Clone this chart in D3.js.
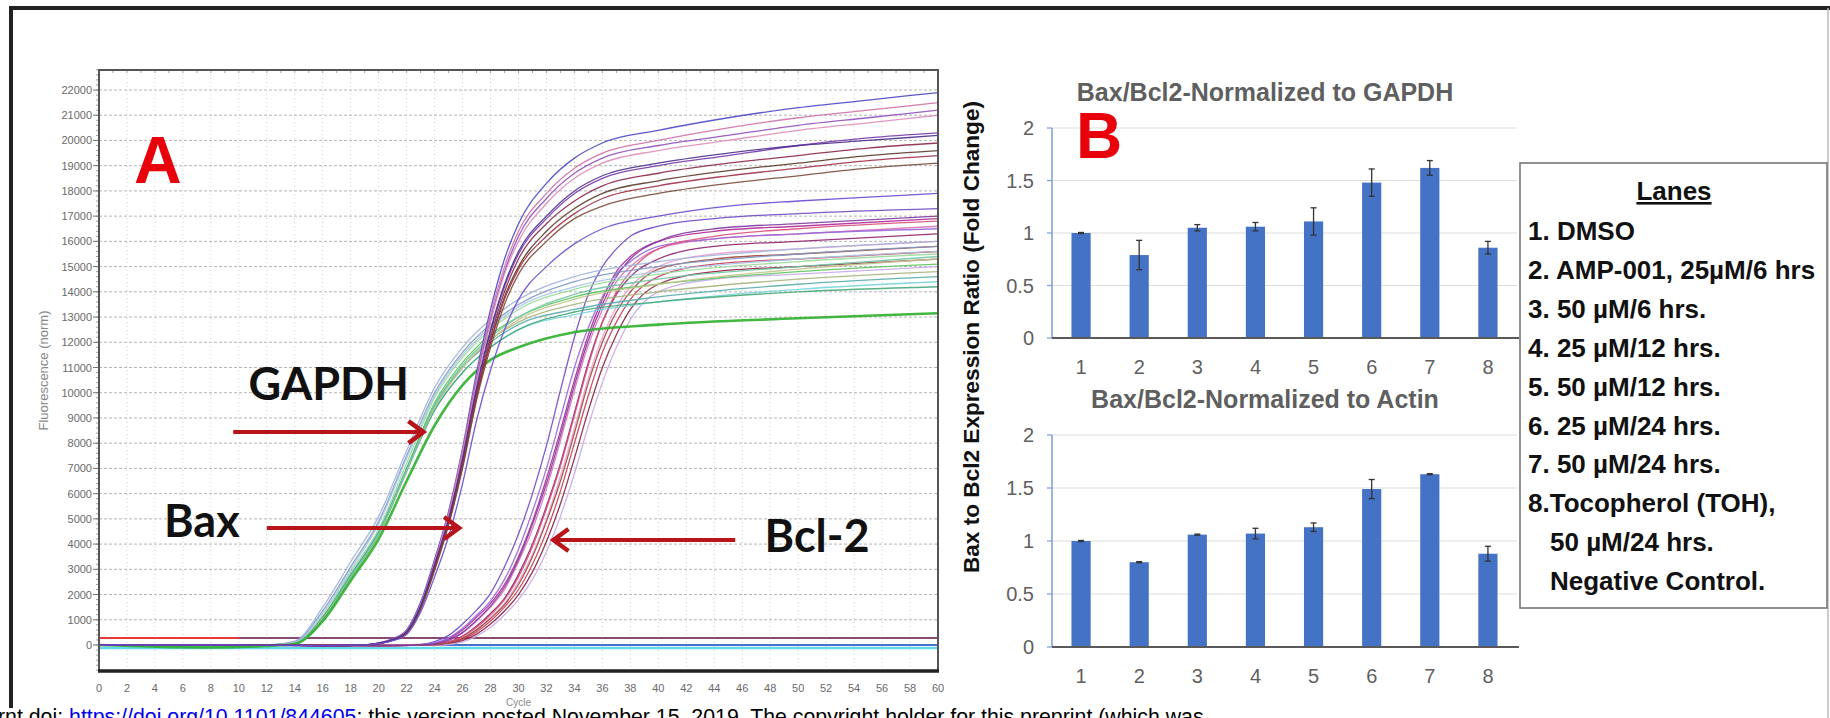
<!DOCTYPE html>
<html><head><meta charset="utf-8">
<script src="https://cdn.jsdelivr.net/npm/d3@7"></script>
<style>body{margin:0;background:#fff}svg{display:block}</style>
</head><body>
<svg id="c" width="1830" height="718"></svg>
<script>
// ---------------- DATA ----------------
// Panel A: amplification curves (fluorescence, norm) read at these cycles
const cyclesGAPDH = [0, 8, 12, 14, 16, 18, 20, 22, 24, 26, 28, 30, 34, 40, 50, 60];
const gapdhCurves = [
  [0,0,0,150,1500,3300,5100,7700,10200,11800,12900,13700,14600,15200,15700,16000],
  [0,0,0,120,1350,3100,4900,7500,10000,11600,12700,13500,14400,15000,15500,15800],
  [0,-30,0,80,1150,2900,4600,7200,9800,11400,12500,13300,14100,14700,15200,15500],
  [0,-60,-20,60,1050,2750,4450,7000,9600,11200,12300,13000,13800,14300,14800,15100],
  [0,-40,0,50,1000,2650,4350,6900,9400,11000,12100,12800,13500,14000,14500,14800],
  [0,-20,0,70,1100,2800,4500,7000,9500,11000,12000,12700,13300,13800,14300,14600],
  [0,-20,0,60,1050,2700,4400,6900,9300,10800,11800,12500,13100,13600,14100,14400],
  [0,-40,0,70,1100,2750,4450,6900,9300,10800,11800,12500,13200,13600,14000,14200],
  [0,0,0,60,1050,2700,4400,6900,9400,11000,12100,12900,13700,14300,14900,15300],
  [0,-50,0,60,1000,2700,4400,6900,9500,11100,12200,13000,13900,14500,15000,15400],
  [0,0,0,100,1250,3000,4800,7400,9900,11500,12600,13400,14200,14800,15300,15600],
  [0,-100,-40,40,950,2550,4200,6500,8700,10300,11300,11800,12400,12700,12950,13150]
];
const cyclesBax = [0,10,16,19,20,21,22,23,24,25,26,27,28,29,30,32,34,36,40,45,50,55,60];
const baxCurves = [
  [0,0,-30,0,80,250,600,1700,3400,5300,7800,10800,13300,15300,16700,18300,19300,19900,20400,20900,21300,21600,21900],
  [0,0,-20,0,70,230,560,1600,3300,5200,7700,10600,13100,15000,16400,17900,18900,19500,20000,20500,20900,21200,21500],
  [0,0,-20,0,60,220,540,1550,3200,5100,7600,10500,12900,14800,16200,17700,18700,19300,19800,20200,20600,20900,21200],
  [0,0,-30,0,70,230,550,1580,3250,5150,7600,10400,12800,14700,16000,17500,18500,19100,19600,20000,20400,20700,21000],
  [0,0,-30,0,60,200,500,1500,3100,4900,7300,10100,12400,14200,15500,16900,17900,18500,19000,19400,19800,20100,20300],
  [0,0,-20,0,60,210,520,1520,3100,4900,7200,10000,12200,14000,15300,16700,17600,18200,18700,19100,19400,19700,19900],
  [0,0,-20,0,50,190,480,1450,3000,4800,7100,9800,12000,13800,15000,16400,17300,17900,18400,18800,19100,19400,19600],
  [0,0,-20,0,60,200,500,1480,3050,4850,7150,9900,12000,13700,14900,16200,17100,17700,18200,18600,18900,19200,19400],
  [0,0,-20,0,50,180,460,1400,2950,4750,7000,9700,11800,13500,14700,16000,16900,17400,17900,18300,18600,18900,19100],
  [0,0,-30,0,70,220,530,1550,3200,5000,7400,10200,12500,14300,15600,17000,18000,18600,19100,19500,19800,20000,20200],
  [0,0,-20,0,50,170,420,1300,2700,4300,6400,8900,10900,12500,13700,15000,15900,16500,17000,17400,17600,17750,17900]
];
const cyclesBcl2 = [0,10,20,23,24,25,26,27,28,29,30,31,32,33,34,35,36,37,38,40,44,50,60];
const bcl2Curves = [
  [0,0,-10,20,130,380,830,1380,2050,3100,4400,6000,7900,10100,12200,13900,15000,15700,16200,16600,16900,17100,17300],
  [0,0,-20,10,60,250,600,1100,1650,2400,3500,4900,6600,8500,10500,12300,13700,14800,15400,16000,16400,16600,16900],
  [0,0,-20,0,40,180,480,950,1500,2200,3300,4600,6200,8100,10100,11900,13300,14400,15000,15700,16100,16300,16600],
  [0,0,-20,0,20,120,350,750,1250,1850,2800,4000,5500,7200,9200,11200,12800,13900,14600,15300,15800,16000,16300],
  [0,0,-20,0,10,90,280,620,1100,1650,2500,3600,5000,6700,8600,10600,12200,13400,14200,15000,15500,15700,16000],
  [0,0,-20,0,0,60,220,520,950,1500,2200,3200,4500,6100,8000,9900,11600,12800,13700,14600,15100,15300,15600],
  [0,0,-20,0,0,40,170,430,830,1350,2000,2900,4100,5600,7400,9300,11000,12300,13300,14300,14800,15000,15300],
  [0,0,-20,10,80,280,660,1180,1750,2600,3800,5300,7000,9000,11000,12600,13800,14700,15200,15800,16100,16300,16500],
  [0,0,-10,0,0,20,120,350,700,1200,1800,2600,3700,5100,6800,8700,10400,11800,12900,14000,14500,14700,15000],
  [0,0,-20,0,20,110,330,700,1200,1800,2700,3900,5400,7100,9100,11100,12800,14000,14800,15700,16200,16500,16800],
  [0,0,-20,0,10,80,260,600,1050,1600,2400,3500,4900,6500,8400,10400,12000,13200,14000,14900,15300,15500,15800],
  [0,0,-20,0,40,190,500,980,1550,2300,3400,4800,6400,8300,10300,12100,13500,14600,15300,16000,16500,16700,17000]
];
const fluorTicks = [0,1000,2000,3000,4000,5000,6000,7000,8000,9000,10000,11000,12000,13000,14000,15000,16000,17000,18000,19000,20000,21000,22000];
const cycleTicks = [0,2,4,6,8,10,12,14,16,18,20,22,24,26,28,30,32,34,36,38,40,42,44,46,48,50,52,54,56,58,60];
// threshold / baseline traces: [fromCycle, toCycle, fluorescence]
const baseTraces = [[0,60,-120],[0,60,0],[0,60,280],[10,60,280]];
// annotations: label anchor [cycle, fluor]; arrows [tail cycle, head cycle, fluor]
const geneLabels = ["GAPDH","Bax","Bcl-2"];
const geneLabelPos = [[10.7,9700],[4.65,4280],[47.6,3690]];
const geneArrows = [[9.6,23.2,8440],[12.0,25.75,4640],[45.5,32.5,4160]];

// Panel B
const lanes = ["1","2","3","4","5","6","7","8"];
const ratioGAPDH = [1.00,0.79,1.05,1.06,1.11,1.48,1.62,0.86];
const errGAPDH   = [0.005,0.14,0.03,0.04,0.13,0.13,0.07,0.06];
const ratioActin = [1.00,0.80,1.06,1.07,1.13,1.49,1.63,0.88];
const errActin   = [0.005,0.005,0.005,0.05,0.04,0.09,0.005,0.07];
const ratioTicks = [0,0.5,1,1.5,2];
const laneLegend = [
  "1. DMSO",
  "2. AMP-001, 25\u00B5M/6 hrs",
  "3. 50 \u00B5M/6 hrs.",
  "4. 25 \u00B5M/12 hrs.",
  "5. 50 \u00B5M/12 hrs.",
  "6. 25 \u00B5M/24 hrs.",
  "7. 50 \u00B5M/24 hrs.",
  "8.Tocopherol (TOH),",
  "50 \u00B5M/24 hrs.",
  "Negative Control."
];

// ---------------- STYLES ----------------
const gapdhColors = ["#9fb4dc","#8398c4","#98dc98","#5cc45c","#a8b47c","#58acac","#78d4dc","#44a878","#c4c48c","#70c4a4","#a8c4e4","#2eb02e"];
const baxColors = ["#4848c8","#d070a8","#9050c0","#e08cb8","#7838a8","#8c2848","#5a3a28","#a03048","#7a4a3a","#4a3090","#6a4ad0"];
const bcl2Colors = ["#7048c8","#b02898","#e070b8","#902070","#eaa0d0","#c83c5a","#8a2040","#9868d8","#c8a8e8","#d85078","#a04838","#8038a0"];
const baseColors = ["#60d8f0","#4a70c8","#e83838","#8a4a78"];

// ---------------- DRAW ----------------
const svg = d3.select("#c");
svg.append("rect").attr("width",1830).attr("height",718).attr("fill","#fff");

// outer frame
svg.append("line").attr("x1",9).attr("x2",1830).attr("y1",8).attr("y2",8).attr("stroke","#222").attr("stroke-width",4);
svg.append("line").attr("x1",11).attr("x2",11).attr("y1",6).attr("y2",708).attr("stroke","#222").attr("stroke-width",4);
svg.append("line").attr("x1",1828).attr("x2",1828).attr("y1",8).attr("y2",718).attr("stroke","#bbb").attr("stroke-width",1.5);

// ===== Panel A =====
const A = {l:99, r:938, t:70, b:671};
const xA = d3.scaleLinear().domain([0,60]).range([A.l, A.r]);
const yA = d3.scaleLinear().domain([0,22000]).range([645, 90]);
const gA = svg.append("g");
gA.append("defs").append("clipPath").attr("id","clipA")
  .append("rect").attr("x",A.l).attr("y",A.t).attr("width",A.r-A.l).attr("height",A.b-A.t);

// grid
gA.append("g").selectAll("line").data(fluorTicks).join("line")
  .attr("x1",A.l).attr("x2",A.r).attr("y1",d=>yA(d)).attr("y2",d=>yA(d))
  .attr("stroke","#b4b4b4").attr("stroke-width",1).attr("stroke-dasharray","3,2");
gA.append("g").selectAll("line").data(cycleTicks.slice(1,-1)).join("line")
  .attr("x1",d=>xA(d)).attr("x2",d=>xA(d)).attr("y1",A.t).attr("y2",A.b)
  .attr("stroke","#cfcfcf").attr("stroke-width",1).attr("stroke-dasharray","1,3");

// minor ticks on left
gA.append("g").selectAll("line").data(d3.range(-1000,22801,200)).join("line")
  .attr("x1",A.l-3).attr("x2",A.l).attr("y1",d=>yA(d)).attr("y2",d=>yA(d))
  .attr("stroke","#888").attr("stroke-width",0.8);
gA.append("g").selectAll("line").data(fluorTicks).join("line")
  .attr("x1",A.l-6).attr("x2",A.l).attr("y1",d=>yA(d)).attr("y2",d=>yA(d))
  .attr("stroke","#777").attr("stroke-width",1);
gA.append("g").selectAll("line").data(d3.range(0,61,1)).join("line")
  .attr("x1",d=>xA(d)).attr("x2",d=>xA(d)).attr("y1",A.t).attr("y2",A.t+3)
  .attr("stroke","#888").attr("stroke-width",0.8);

// tick labels
gA.append("g").selectAll("text").data(fluorTicks).join("text")
  .attr("x",A.l-7).attr("y",d=>yA(d)+4).attr("text-anchor","end")
  .attr("font-family","Liberation Sans, Arial, sans-serif").attr("font-size",11).attr("fill","#6a6a6a")
  .text(d=>d);
gA.append("g").selectAll("text").data(cycleTicks).join("text")
  .attr("x",d=>xA(d)).attr("y",692).attr("text-anchor","middle")
  .attr("font-family","Liberation Sans, Arial, sans-serif").attr("font-size",11).attr("fill","#6a6a6a")
  .text(d=>d);
gA.append("text").attr("x",(A.l+A.r)/2).attr("y",706).attr("text-anchor","middle")
  .attr("font-family","Liberation Sans, Arial, sans-serif").attr("font-size",10).attr("fill","#888").text("Cycle");
gA.append("text").attr("transform",`translate(48,${(A.t+A.b)/2}) rotate(-90)`).attr("text-anchor","middle")
  .attr("font-family","Liberation Sans, Arial, sans-serif").attr("font-size",13).attr("fill","#888").text("Fluorescence (norm)");

// curves
const plot = gA.append("g").attr("clip-path","url(#clipA)");
plot.selectAll("line.base").data(baseTraces).join("line").attr("class","base")
  .attr("x1",d=>xA(d[0])).attr("x2",d=>xA(d[1])).attr("y1",d=>yA(d[2])).attr("y2",d=>yA(d[2]))
  .attr("stroke",(d,i)=>baseColors[i]).attr("stroke-width",(d,i)=>i===0?2.5:2);

function drawGroup(curves, cycles, colors, thick){
  const line = d3.line().x((d,i)=>xA(cycles[i])).y(d=>yA(d)).curve(d3.curveMonotoneX);
  plot.append("g").selectAll("path").data(curves).join("path")
    .attr("d",line).attr("fill","none")
    .attr("stroke",(d,i)=>colors[i])
    .attr("stroke-width",(d,i)=>thick && i===curves.length-1 ? 2.6 : 1.3)
    .attr("opacity",0.9);
}
drawGroup(bcl2Curves, cyclesBcl2, bcl2Colors, false);
drawGroup(gapdhCurves, cyclesGAPDH, gapdhColors, true);
drawGroup(baxCurves, cyclesBax, baxColors, false);

// frame
gA.append("rect").attr("x",A.l).attr("y",A.t).attr("width",A.r-A.l).attr("height",A.b-A.t)
  .attr("fill","none").attr("stroke","#555").attr("stroke-width",2);
gA.append("line").attr("x1",A.l-1).attr("x2",A.r+1).attr("y1",A.b).attr("y2",A.b).attr("stroke","#222").attr("stroke-width",3.5);

// annotations
gA.append("text").attr("x",xA(2.5)).attr("y",yA(18300)).attr("font-family","Liberation Sans, Arial, sans-serif")
  .attr("font-weight","bold").attr("font-size",66).attr("fill","#e8000b").text("A");
gA.selectAll("text.gene").data(geneLabels).join("text").attr("class","gene")
  .attr("x",(d,i)=>xA(geneLabelPos[i][0])).attr("y",(d,i)=>yA(geneLabelPos[i][1]))
  .attr("font-family","Lato, 'Open Sans', sans-serif").attr("font-weight","bold").attr("font-size",45).attr("fill","#111")
  .text(d=>d);
const arr = gA.selectAll("g.arrow").data(geneArrows).join("g").attr("class","arrow");
arr.append("line").attr("x1",d=>xA(d[0])).attr("x2",d=>xA(d[1])).attr("y1",d=>yA(d[2])).attr("y2",d=>yA(d[2]))
  .attr("stroke","#b8141a").attr("stroke-width",4);
arr.append("path").attr("d",d=>{
  const hx = xA(d[1]), hy = yA(d[2]), dir = d[1] > d[0] ? 1 : -1;
  return `M${hx-dir*15},${hy-11} L${hx},${hy} L${hx-dir*15},${hy+11}`;
}).attr("fill","none").attr("stroke","#b8141a").attr("stroke-width",4.5).attr("stroke-linejoin","miter");

// ===== Panel B =====
const xB = d3.scaleBand().domain(lanes).range([1052,1517]).paddingInner(0.67).paddingOuter(0.335);
function barChart(yS, values, errs, title, titleY){
  const g = svg.append("g");
  g.selectAll("line.grid").data(ratioTicks.slice(1)).join("line").attr("class","grid")
    .attr("x1",1052).attr("x2",1517).attr("y1",d=>yS(d)).attr("y2",d=>yS(d))
    .attr("stroke","#dedede").attr("stroke-width",1.2);
  g.append("line").attr("x1",1052).attr("x2",1052).attr("y1",yS(2)).attr("y2",yS(0))
    .attr("stroke","#7d9bd6").attr("stroke-width",1.5);
  g.selectAll("line.tk").data(ratioTicks).join("line").attr("class","tk")
    .attr("x1",1047).attr("x2",1052).attr("y1",d=>yS(d)).attr("y2",d=>yS(d))
    .attr("stroke","#7d9bd6").attr("stroke-width",1.2);
  g.selectAll("text.yl").data(ratioTicks).join("text").attr("class","yl")
    .attr("x",1034).attr("y",d=>yS(d)+7).attr("text-anchor","end")
    .attr("font-family","Liberation Sans, Arial, sans-serif").attr("font-size",20).attr("fill","#5f5f5f")
    .text(d=>d);
  g.selectAll("rect.bar").data(values).join("rect").attr("class","bar")
    .attr("x",(d,i)=>xB(lanes[i])).attr("width",xB.bandwidth())
    .attr("y",d=>yS(d)).attr("height",d=>yS(0)-yS(d)).attr("fill","#4472c4");
  const eb = g.selectAll("g.eb").data(values).join("g").attr("class","eb");
  const cx = (i)=>xB(lanes[i])+xB.bandwidth()/2;
  eb.append("line").attr("x1",(d,i)=>cx(i)).attr("x2",(d,i)=>cx(i))
    .attr("y1",(d,i)=>yS(d+errs[i])).attr("y2",(d,i)=>yS(d-errs[i])).attr("stroke","#333").attr("stroke-width",1.3);
  eb.append("line").attr("x1",(d,i)=>cx(i)-3).attr("x2",(d,i)=>cx(i)+3)
    .attr("y1",(d,i)=>yS(d+errs[i])).attr("y2",(d,i)=>yS(d+errs[i])).attr("stroke","#333").attr("stroke-width",1.3);
  eb.append("line").attr("x1",(d,i)=>cx(i)-3).attr("x2",(d,i)=>cx(i)+3)
    .attr("y1",(d,i)=>yS(d-errs[i])).attr("y2",(d,i)=>yS(d-errs[i])).attr("stroke","#333").attr("stroke-width",1.3);
  g.append("line").attr("x1",1052).attr("x2",1519).attr("y1",yS(0)).attr("y2",yS(0))
    .attr("stroke","#595959").attr("stroke-width",1.8);
  g.selectAll("text.xl").data(lanes).join("text").attr("class","xl")
    .attr("x",d=>xB(d)+xB.bandwidth()/2).attr("y",yS(0)+36).attr("text-anchor","middle")
    .attr("font-family","Liberation Sans, Arial, sans-serif").attr("font-size",20).attr("fill","#5f5f5f")
    .text(d=>d);
  g.append("text").attr("x",1265).attr("y",titleY).attr("text-anchor","middle")
    .attr("font-family","Liberation Sans, Arial, sans-serif").attr("font-weight","bold").attr("font-size",25)
    .attr("fill","#5f5f5f").text(title);
}
const yB1 = d3.scaleLinear().domain([0,2]).range([338,128]);
const yB2 = d3.scaleLinear().domain([0,2]).range([647,435]);
barChart(yB1, ratioGAPDH, errGAPDH, "Bax/Bcl2-Normalized to GAPDH", 101);
barChart(yB2, ratioActin, errActin, "Bax/Bcl2-Normalized to Actin", 408);

svg.append("text").attr("x",1076).attr("y",158).attr("font-family","Liberation Sans, Arial, sans-serif")
  .attr("font-weight","bold").attr("font-size",64).attr("fill","#e8000b").text("B");
svg.append("text").attr("transform","translate(979,337) rotate(-90)").attr("text-anchor","middle")
  .attr("font-family","Liberation Sans, Arial, sans-serif").attr("font-weight","bold").attr("font-size",22.6)
  .attr("fill","#111").text("Bax to Bcl2 Expression Ratio (Fold Change)");

// legend box
const lg = svg.append("g");
lg.append("rect").attr("x",1520).attr("y",163).attr("width",307).attr("height",445)
  .attr("fill","#fff").attr("stroke","#777").attr("stroke-width",1.6);
lg.append("text").attr("x",1674).attr("y",200).attr("text-anchor","middle")
  .attr("font-family","Liberation Sans, Arial, sans-serif").attr("font-weight","bold").attr("font-size",26)
  .attr("fill","#111").attr("text-decoration","underline").text("Lanes");
lg.selectAll("text.ln").data(laneLegend).join("text").attr("class","ln")
  .attr("x",(d,i)=> i>=8 ? 1550 : 1528).attr("y",(d,i)=>240 + i*38.9)
  .attr("font-family","Liberation Sans, Arial, sans-serif").attr("font-weight","bold").attr("font-size",26)
  .attr("fill","#111").text(d=>d);

// bottom preprint line
const ft = svg.append("text").attr("x",-2).attr("y",724)
  .attr("font-family","Liberation Sans, Arial, sans-serif").attr("font-size",21.3).attr("fill","#000");
ft.append("tspan").text("rnt doi: ");
ft.append("tspan").attr("fill","#0000ee").attr("text-decoration","underline").text("https://doi.org/10.1101/844605");
ft.append("tspan").text("; this version posted November 15, 2019. The copyright holder for this preprint (which was");
</script>
</body></html>
